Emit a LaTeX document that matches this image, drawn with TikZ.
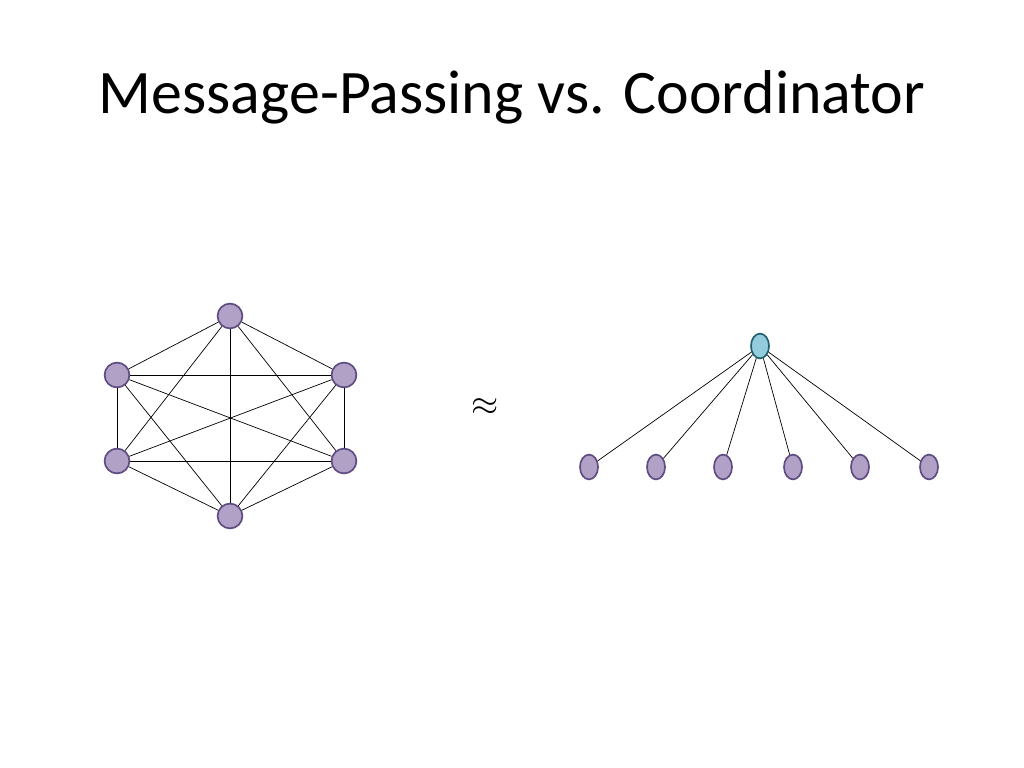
\documentclass[tikz,border=0pt]{standalone}
\usepackage{fontspec}
\setmainfont{Carlito}
\definecolor{nodefill}{RGB}{178,161,199}
\definecolor{nodeline}{RGB}{94,76,130}
\definecolor{hubfill}{RGB}{147,205,221}
\definecolor{hubline}{RGB}{35,95,110}
\tikzstyle{peer} = [draw=nodeline, line width=1.2pt, circle, minimum size=0.62cm, inner sep=0pt, fill=nodefill]
\tikzstyle{leaf} = [draw=nodeline, line width=1.2pt, ellipse, minimum width=0.45cm, minimum height=0.62cm, inner sep=0pt, fill=nodefill]
\tikzstyle{hub} = [draw=hubline, line width=1.2pt, ellipse, minimum width=0.45cm, minimum height=0.62cm, inner sep=0pt, fill=hubfill]
\tikzstyle{link} = [black, line width=0.5pt]
\usetikzlibrary{shapes.geometric}
\begin{document}
\begin{tikzpicture}[x=0.025cm, y=-0.025cm]
\useasboundingbox (0,0) rectangle (1024,768);

% Title
\node (title) at (512,97) {\fontsize{44}{50}\selectfont Message-Passing vs. Coordinator};

% Message passing: complete graph
\node (p1) [peer] at (230,316) {};
\node (p2) [peer] at (344,375) {};
\node (p3) [peer] at (344,461) {};
\node (p4) [peer] at (230,516) {};
\node (p5) [peer] at (117,461) {};
\node (p6) [peer] at (117,375) {};
\foreach \i/\j in {1/2,1/3,1/4,1/5,1/6,2/3,2/4,2/5,2/6,3/4,3/5,3/6,4/5,4/6,5/6}
  \draw [link] (p\i) -- (p\j);

% Approx sign
\node (approx) at (485,407) {\fontsize{30}{30}\selectfont $\approx$};

% Coordinator: star
\node (hub) [hub] at (760,346) {};
\foreach \x [count=\k] in {589,656,723,793,860,929} {
  \node (leaf\k) [leaf] at (\x,467) {};
  \draw [link] (hub) -- (leaf\k);
}

\end{tikzpicture}
\end{document}
